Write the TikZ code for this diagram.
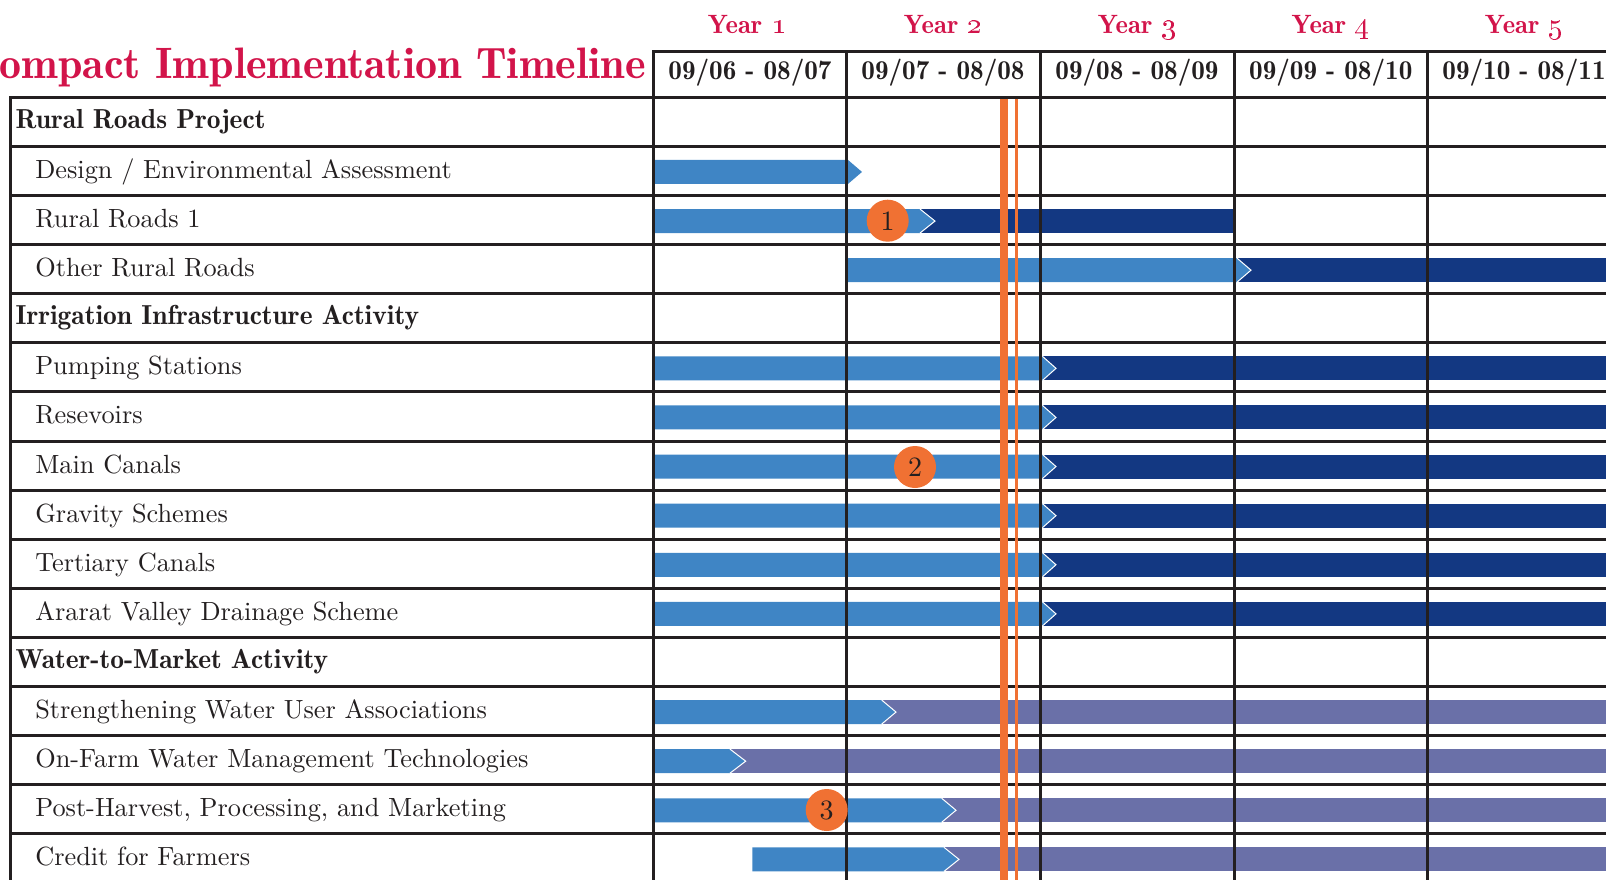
\documentclass[tikz,border=0pt]{standalone}
\usepackage{tikz}
\usepackage{graphicx}
\usepackage{textcomp}
\definecolor{gridc}{HTML}{231F20}
\definecolor{lightbar}{HTML}{3F85C5}
\definecolor{darkbar}{HTML}{133882}
\definecolor{purplebar}{HTML}{6A70A8}
\definecolor{orangec}{HTML}{F07133}
\definecolor{crimson}{HTML}{D2144A}
\newcommand\ganttbar[5]{%
  \fill[#5] (#3,#1-11) rectangle (1606,#1+13);
  \fill[lightbar] (#2,#1-11) -- (#3,#1-11) -- (#4,#1+1) -- (#3,#1+13) -- (#2,#1+13) -- cycle;
  \draw[white,line width=1pt] (#3,#1-11) -- (#4,#1+1) -- (#3,#1+13);
}
\newcommand\ynum[1]{\scalebox{3.0}{\fontsize{10}{12}\fontseries{bx}\selectfont#1}}
\begin{document}
\begin{tikzpicture}[x=1pt,y=-1pt,
  gridline/.style={draw=gridc,line width=3pt,line cap=rect},
  rowlabel/.style={anchor=base west,inner sep=0pt,text=gridc,font=\fontsize{10}{12}\selectfont,scale=2.63,transform shape},
  grouplabel/.style={anchor=base west,inner sep=0pt,text=gridc,font=\fontsize{27.5}{30}\fontseries{b}\selectfont},
  datelabel/.style={anchor=base,inner sep=0pt,text=gridc,font=\fontsize{27.2}{30}\fontseries{b}\selectfont},
  yearlabel/.style={anchor=base,inner sep=0pt,text=crimson,font=\fontsize{26.5}{28}\fontseries{b}\selectfont},
  titlelabel/.style={anchor=base east,inner sep=0pt,text=crimson,font=\fontsize{44}{48}\fontseries{b}\selectfont},
  marker/.style={circle,fill=orangec,minimum size=42pt,inner sep=0pt,text=gridc,font=\fontsize{10}{12}\selectfont},
  nowline/.style={draw=orangec}
]
\useasboundingbox (0,0) rectangle (1606,880);

% bars
\fill[lightbar] (652,159.95) -- (848,159.95) -- (862,171.95) -- (848,183.95) -- (652,183.95) -- cycle;
\fill[darkbar] (920,209.05) rectangle (1234,233.05);
\fill[lightbar] (652,209.05) -- (920,209.05) -- (935,221.05) -- (920,233.05) -- (652,233.05) -- cycle;
\draw[white,line width=1pt] (920,209.05) -- (935,221.05) -- (920,233.05);
\ganttbar{269.15}{846}{1237}{1251}{darkbar}
\ganttbar{367.35}{652}{1042.5}{1056}{darkbar}
\ganttbar{416.45}{652}{1042.5}{1056}{darkbar}
\ganttbar{465.55}{652}{1042.5}{1056}{darkbar}
\ganttbar{514.65}{652}{1042.5}{1056}{darkbar}
\ganttbar{563.75}{652}{1042.5}{1056}{darkbar}
\ganttbar{612.85}{652}{1042.5}{1056}{darkbar}
\ganttbar{711.05}{652}{881.7}{896}{purplebar}
\ganttbar{760.15}{652}{730}{745.7}{purplebar}
\ganttbar{809.25}{652}{941.7}{956}{purplebar}
\ganttbar{858.35}{752.3}{944}{959}{purplebar}

% grid
\foreach \yy in {97.3,146.4,195.5,244.6,293.7,342.8,391.9,441,490.1,539.2,588.3,637.4,686.5,735.6,784.7,833.8}
  \draw[gridline] (10,\yy) -- (1610,\yy);
\draw[gridline] (653,51.5) -- (1610,51.5);
\draw[gridline] (10,97.3) -- (10,884);
\foreach \xx in {653,846,1040,1234,1427.5}
  \draw[gridline] (\xx,51.5) -- (\xx,884);

% now lines
\draw[nowline,line width=8pt] (1004,98.8) -- (1004,884);
\draw[nowline,line width=2.5pt] (1016.3,98.8) -- (1016.3,884);

% title and headers
\node[titlelabel] (title) at (646,79) {ompact Implementation Timeline};
\node[yearlabel] (y1) at (747,33.3) {Year \ynum{\textoneoldstyle}};
\node[yearlabel] (y2) at (943,33.3) {Year \ynum{\texttwooldstyle}};
\node[yearlabel] (y3) at (1137,33.3) {Year \ynum{\textthreeoldstyle}};
\node[yearlabel] (y4) at (1330.75,33.3) {Year \ynum{\textfouroldstyle}};
\node[yearlabel] (y5) at (1524,33.3) {Year \ynum{\textfiveoldstyle}};
\node[datelabel] (d1) at (750,80) {09/06 - 08/07};
\node[datelabel] (d2) at (943,80) {09/07 - 08/08};
\node[datelabel] (d3) at (1137,80) {09/08 - 08/09};
\node[datelabel] (d4) at (1330.75,80) {09/09 - 08/10};
\node[datelabel] (d5) at (1524,80) {09/10 - 08/11};

% row labels
\node[grouplabel] (g1) at (15.4,128.3) {Rural Roads Project};
\node[rowlabel] (r1) at (34.8,178.4) {Design / Environmental Assessment};
\node[rowlabel] (r2) at (34.8,227.5) {Rural Roads 1};
\node[rowlabel] (r3) at (34.8,276.6) {Other Rural Roads};
\node[grouplabel] (g2) at (15.4,324.7) {Irrigation Infrastructure Activity};
\node[rowlabel] (r5) at (34.8,374.8) {Pumping Stations};
\node[rowlabel] (r6) at (34.8,423.9) {Resevoirs};
\node[rowlabel] (r7) at (34.8,473) {Main Canals};
\node[rowlabel] (r8) at (34.8,522.1) {Gravity Schemes};
\node[rowlabel] (r9) at (34.8,571.2) {Tertiary Canals};
\node[rowlabel] (r10) at (34.8,620.3) {Ararat Valley Drainage Scheme};
\node[grouplabel] (g3) at (15.4,668.4) {Water-to-Market Activity};
\node[rowlabel] (r12) at (34.8,718.5) {Strengthening Water User Associations};
\node[rowlabel] (r13) at (34.8,767.6) {On-Farm Water Management Technologies};
\node[rowlabel] (r14) at (34.8,816.7) {Post-Harvest, Processing, and Marketing};
\node[rowlabel] (r15) at (34.8,865.8) {Credit for Farmers};

% markers
\node[marker] (m1) at (887.7,220.7) {\scalebox{2.8}{1}};
\node[marker] (m2) at (915,467) {\scalebox{2.8}{2}};
\node[marker] (m3) at (826.7,810) {\scalebox{2.8}{3}};
\end{tikzpicture}
\end{document}
